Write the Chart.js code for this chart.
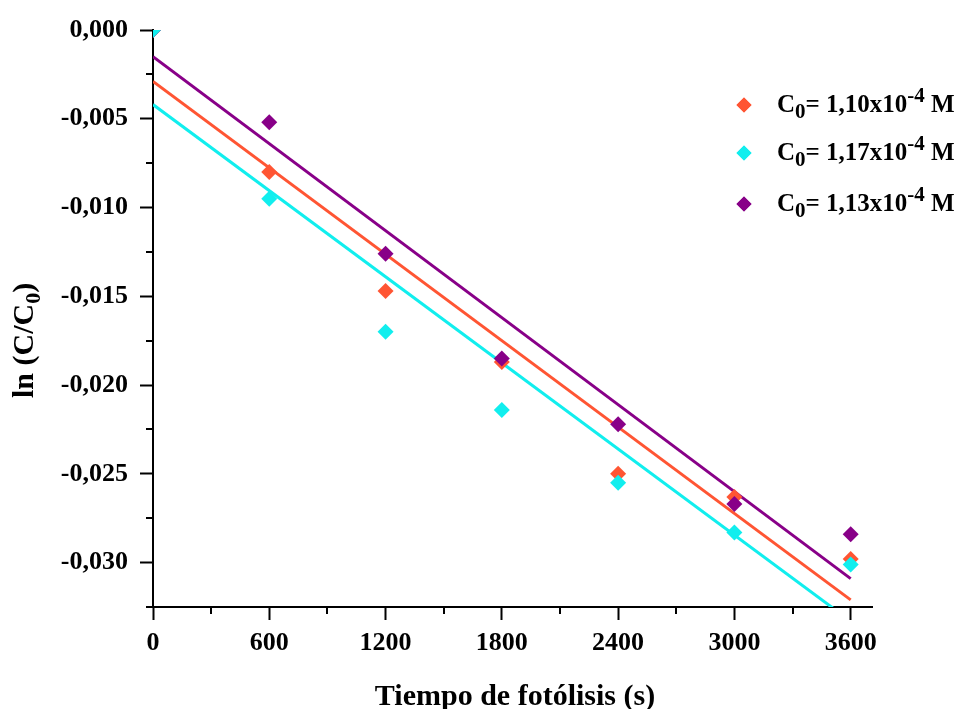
<!DOCTYPE html>
<html><head><meta charset="utf-8">
<script src="https://cdn.jsdelivr.net/npm/chart.js@4/dist/chart.umd.min.js"></script>
<style>html,body{margin:0;padding:0;background:#fff;}#wrap{width:962px;height:709px;position:relative;}</style>
</head><body><div id="wrap"><canvas id="c" width="962" height="709"></canvas></div>
<script>
// Photolysis times (s)
const times = [0, 600, 1200, 1800, 2400, 3000, 3600];
// ln(C/C0) for each initial concentration
const c110 = [0, -0.0080, -0.0147, -0.0187, -0.0250, -0.0263, -0.0298];
const c117 = [0, -0.0095, -0.0170, -0.0214, -0.0255, -0.0283, -0.0301];
const c113 = [0, -0.0052, -0.0126, -0.0185, -0.0222, -0.0267, -0.0284];
// Fitted lines, read at t = 0 and t = 3600
const fitTimes = [0, 3600];
const fit110 = [-0.0029, -0.0321];
const fit117 = [-0.0042, -0.0333];
const fit113 = [-0.0015, -0.0309];
// Legend values (x10^-4 M)
const legendValues = ['1,10', '1,17', '1,13'];
const xMajorTicks = [0, 600, 1200, 1800, 2400, 3000, 3600];
const yMajorTicks = [0, -0.005, -0.010, -0.015, -0.020, -0.025, -0.030];

const COL = {o: '#FF5533', c: '#11EEEE', p: '#880088'};
const FONT = "'Liberation Serif', 'Times New Roman', serif";
const pts = (ys, xs) => xs.map((x, i) => ({x: x, y: ys[i]}));

function scat(label, ys, color, order) {
  return {type: 'scatter', label, data: pts(ys, times), backgroundColor: color, borderColor: color,
    pointStyle: 'rectRot', pointRadius: 8, pointBorderWidth: 0, showLine: false, order};
}
function fitLine(ys, color, order) {
  return {type: 'line', data: pts(ys, fitTimes), borderColor: color, borderWidth: 3, pointRadius: 0,
    fill: false, tension: 0, order};
}

const extras = {
  id: 'extras',
  afterDraw(chart) {
    const ctx = chart.ctx, xs = chart.scales.x, ys = chart.scales.y, a = chart.chartArea;
    ctx.save();
    ctx.strokeStyle = '#000'; ctx.lineWidth = 2;
    // minor ticks
    for (let v = 300; v <= xs.max; v += 600) {
      const px = Math.round(xs.getPixelForValue(v));
      ctx.beginPath(); ctx.moveTo(px, a.bottom); ctx.lineTo(px, a.bottom + 7); ctx.stroke();
    }
    for (let v = -0.0025; v >= ys.min - 1e-9; v -= 0.005) {
      const py = Math.round(ys.getPixelForValue(v));
      ctx.beginPath(); ctx.moveTo(a.left - 7, py); ctx.lineTo(a.left, py); ctx.stroke();
    }
    ctx.fillStyle = '#000';
    // x title
    ctx.font = 'bold 30px ' + FONT; ctx.textAlign = 'center'; ctx.textBaseline = 'alphabetic';
    ctx.fillText('Tiempo de fotólisis (s)', 515, 705);
    // y title with subscript
    ctx.save();
    ctx.translate(33, 398); ctx.rotate(-Math.PI / 2);
    ctx.textAlign = 'left';
    ctx.font = 'bold 30px ' + FONT;
    let t1 = 'ln (C/C';
    ctx.fillText(t1, 0, 0);
    let w = ctx.measureText(t1).width;
    ctx.font = 'bold 22px ' + FONT;
    ctx.fillText('0', w, 7);
    w += ctx.measureText('0').width;
    ctx.font = 'bold 30px ' + FONT;
    ctx.fillText(')', w, 0);
    ctx.restore();
    // legend
    const rows = [[COL.o, legendValues[0]], [COL.c, legendValues[1]], [COL.p, legendValues[2]]];
    const rowY = [105, 153, 204];
    rows.forEach((r, i) => {
      const y = rowY[i];
      ctx.fillStyle = r[0];
      Chart.helpers.drawPoint(ctx, {pointStyle: 'rectRot', radius: 7.5, borderWidth: 0}, 744, y);
      ctx.fill();
      ctx.fillStyle = '#000';
      ctx.textAlign = 'left'; ctx.textBaseline = 'alphabetic';
      let x = 777, base = y + 7;
      ctx.font = 'bold 25px ' + FONT; ctx.fillText('C', x, base); x += ctx.measureText('C').width;
      ctx.font = 'bold 21px ' + FONT; ctx.fillText('0', x, base + 6); x += ctx.measureText('0').width;
      ctx.font = 'bold 25px ' + FONT; const s = '= ' + r[1] + 'x10'; ctx.fillText(s, x, base); x += ctx.measureText(s).width;
      ctx.font = 'bold 21px ' + FONT; ctx.fillText('-4', x, base - 10); x += ctx.measureText('-4').width;
      ctx.font = 'bold 25px ' + FONT; ctx.fillText(' M', x, base);
    });
    ctx.restore();
  }
};

new Chart(document.getElementById('c'), {
  data: {datasets: [
    scat('C0= 1,10x10-4 M', c110, COL.o, 2),
    scat('C0= 1,17x10-4 M', c117, COL.c, 0),
    scat('C0= 1,13x10-4 M', c113, COL.p, 1),
    fitLine(fit110, COL.o, 4),
    fitLine(fit117, COL.c, 5),
    fitLine(fit113, COL.p, 3)
  ]},
  options: {
    responsive: false, animation: false, devicePixelRatio: 1,
    layout: {padding: {top: 30, right: 90, left: 0, bottom: 0}},
    plugins: {legend: {display: false}, tooltip: {enabled: false}},
    scales: {
      x: {type: 'linear', min: 0, max: 3710,
        afterFit(s) { s.height = 102; },
        afterBuildTicks(s) { s.ticks = xMajorTicks.map(v => ({value: v})); },
        grid: {drawOnChartArea: false, drawTicks: true, tickLength: 13, tickWidth: 2, tickColor: '#000'},
        border: {display: true, color: '#000', width: 2},
        ticks: {includeBounds: false, padding: 8, color: '#000', maxRotation: 0,
          font: {family: FONT, size: 26, weight: 'bold'}, callback: v => String(v)}
      },
      y: {type: 'linear', min: -0.0325, max: 0,
        afterFit(s) { s.width = 153; },
        afterBuildTicks(s) { s.ticks = yMajorTicks.map(v => ({value: v})); },
        grid: {drawOnChartArea: false, drawTicks: true, tickLength: 13, tickWidth: 2, tickColor: '#000'},
        border: {display: true, color: '#000', width: 2},
        ticks: {includeBounds: false, padding: 12, color: '#000',
          font: {family: FONT, size: 26, weight: 'bold'},
          callback: v => (Math.abs(v) < 1e-12 ? 0 : v).toFixed(3).replace('.', ',')}
      }
    }
  },
  plugins: [extras]
});
</script></body></html>
